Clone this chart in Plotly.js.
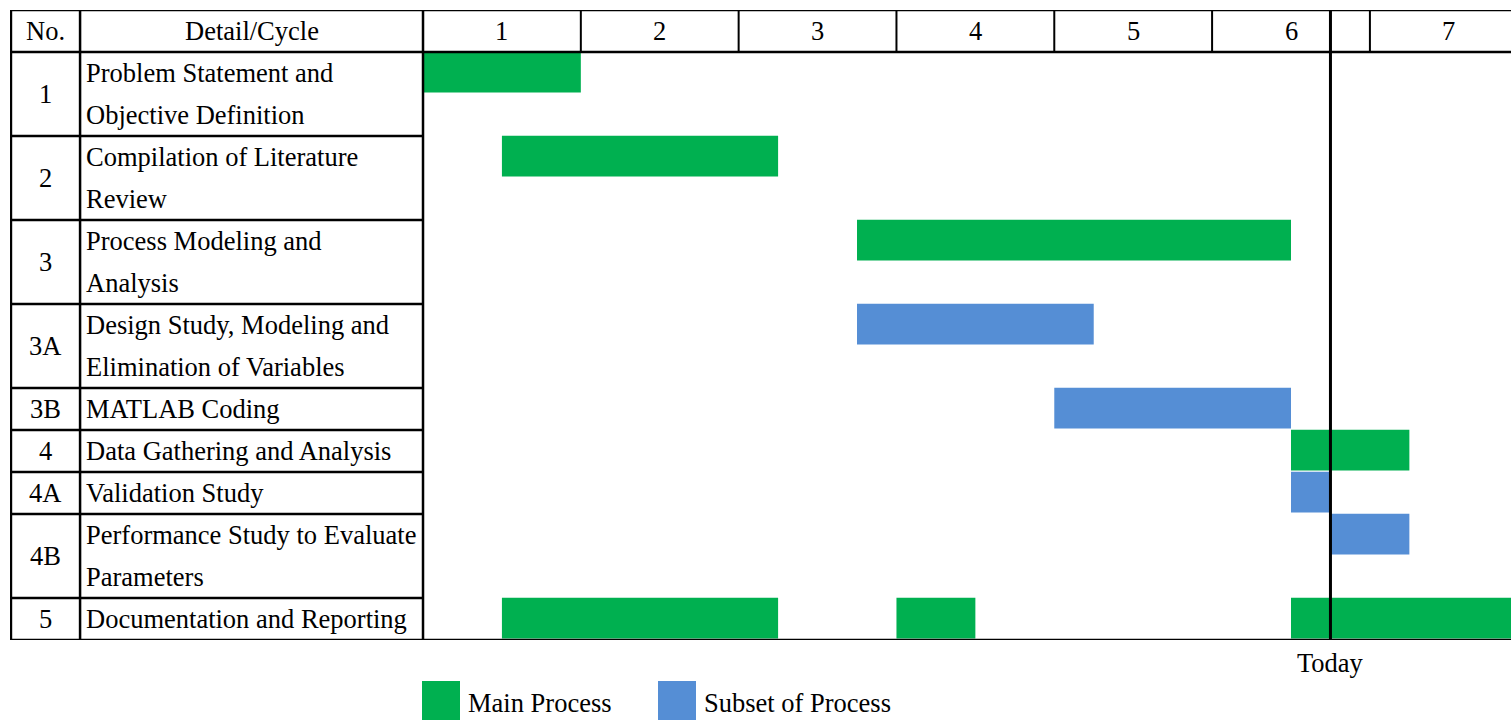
<!DOCTYPE html>
<html>
<head>
<meta charset="utf-8">
<script src="https://cdn.plot.ly/plotly-3.0.1.min.js"></script>
<style>html,body{margin:0;padding:0;background:#fff;}#chart{width:1511px;height:720px;}</style>
</head>
<body>
<div id="chart"></div>
<script>
// ---- data ----
const cycles = ['1', '2', '3', '4', '5', '6', '7'];
const rowIds = ['1', '2', '3', '3A', '3B', '4', '4A', '4B', '5'];
const rowText = [
  ['Problem Statement and', 'Objective Definition'],
  ['Compilation of Literature', 'Review'],
  ['Process Modeling and', 'Analysis'],
  ['Design Study, Modeling and', 'Elimination of Variables'],
  ['MATLAB Coding'],
  ['Data Gathering and Analysis'],
  ['Validation Study'],
  ['Performance Study to Evaluate', 'Parameters'],
  ['Documentation and Reporting']
];
const mainRow   = ['1', '2', '3', '4', '5', '5', '5'];
const mainStart = [0, 0.5, 2.75, 5.5, 0.5, 3.0, 5.5];
const mainEnd   = [1, 2.25, 5.5, 6.25, 2.25, 3.5, 7.0];
const subRow    = ['3A', '3B', '4A', '4B'];
const subStart  = [2.75, 4.0, 5.5, 5.75];
const subEnd    = [4.25, 5.5, 5.75, 6.25];
const todayCycle = 5.75;
const legendNames = ['Main Process', 'Subset of Process'];
const headerNo = 'No.';
const headerDetail = 'Detail/Cycle';
const todayLabel = 'Today';

// ---- layout geometry ----
const GREEN = '#00B050', BLUE = '#558ED5';
const FONT = {family: 'Liberation Serif, Times New Roman, Tinos, DejaVu Serif, serif', size: 26.5, color: '#000'};
const W = 1511, H = 720, ML = 10, MR = 0, MT = 10, MB = 80;
const PW = W - ML - MR, PH = H - MT - MB;
const xLeft = -2.617, xRight = 6.894;        // axis range (cycle units)
const xNoRight = -2.173;                     // boundary between No. and Detail columns
const totalLines = 1 + rowText.reduce((s, r) => s + r.length, 0);

const rowTop = {};
let acc = 1;
rowIds.forEach((id, i) => { rowTop[id] = acc; acc += rowText[i].length; });

const traces = [
  {
    type: 'bar', orientation: 'h', name: legendNames[0],
    y: mainRow.map(r => rowTop[r] + 0.48),
    base: mainStart, x: mainEnd.map((e, i) => e - mainStart[i]),
    width: 0.97, marker: {color: GREEN, line: {width: 0}}, hoverinfo: 'skip'
  },
  {
    type: 'bar', orientation: 'h', name: legendNames[1],
    y: subRow.map(r => rowTop[r] + 0.48),
    base: subStart, x: subEnd.map((e, i) => e - subStart[i]),
    width: 0.97, marker: {color: BLUE, line: {width: 0}}, hoverinfo: 'skip'
  }
];

const shapes = [];
const line = (x0, y0, x1, y1, w) => shapes.push({
  type: 'line', xref: 'x', yref: 'y', x0, y0, x1, y1, layer: 'above',
  line: {color: '#000', width: w || 2}
});
// horizontal borders
line(xLeft, 0, xRight, 0, 2.5);
line(xLeft, 1, xRight, 1, 2.5);
line(xLeft, totalLines, xRight, totalLines, 2.5);
rowIds.forEach((id, i) => {
  if (i > 0) line(xLeft, rowTop[id], 0, rowTop[id], 2.5);
});
// vertical borders
line(xLeft + 0.006, 0, xLeft + 0.006, totalLines, 2.5);
line(xNoRight, 0, xNoRight, totalLines, 2.5);
line(0, 0, 0, totalLines, 2.5);
for (let c = 1; c < cycles.length; c++) line(c, 0, c, 1, 2);
// today line
line(todayCycle, 0, todayCycle, totalLines, 3);

const annotations = [];
const ann = (x, y, text, xanchor, extra) => annotations.push(Object.assign({
  x, y, xref: 'x', yref: 'y', text, showarrow: false, font: FONT,
  xanchor: xanchor || 'center', yanchor: 'middle'
}, extra || {}));

ann((xLeft + xNoRight) / 2, 0.5, headerNo);
ann((xNoRight + 0) / 2, 0.5, headerDetail);
cycles.forEach((c, i) => ann(i + 0.5, 0.5, c));
rowIds.forEach((id, i) => {
  const n = rowText[i].length;
  ann((xLeft + xNoRight) / 2, rowTop[id] + n / 2, id);
  rowText[i].forEach((t, k) => ann(xNoRight + 0.025, rowTop[id] + k + 0.5, t, 'left'));
});

// paper-coordinate helpers for the items below the plot
const px2x = px => (px - ML) / PW;
const py2y = py => (H - MB - py) / PH;
annotations.push({
  xref: 'x', yref: 'paper', x: todayCycle, y: py2y(663),
  text: todayLabel, showarrow: false, font: FONT, xanchor: 'center', yanchor: 'middle'
});

// custom legend
const legendItems = [
  {name: legendNames[0], color: GREEN, x0: 422, textX: 466},
  {name: legendNames[1], color: BLUE, x0: 658, textX: 702}
];
legendItems.forEach(it => {
  shapes.push({
    type: 'rect', xref: 'paper', yref: 'paper',
    x0: px2x(it.x0), x1: px2x(it.x0 + 38), y0: py2y(720), y1: py2y(681),
    fillcolor: it.color, line: {width: 0}
  });
  annotations.push({
    xref: 'paper', yref: 'paper', x: px2x(it.textX), y: py2y(703),
    text: it.name, showarrow: false, font: FONT, xanchor: 'left', yanchor: 'middle'
  });
});

const layout = {
  width: W, height: H,
  margin: {l: ML, r: MR, t: MT, b: MB, pad: 0},
  paper_bgcolor: '#fff', plot_bgcolor: '#fff',
  font: FONT,
  barmode: 'overlay', showlegend: false,
  xaxis: {range: [xLeft, xRight], visible: false, fixedrange: true},
  yaxis: {range: [totalLines, 0], visible: false, fixedrange: true},
  shapes, annotations
};

Plotly.newPlot('chart', traces, layout, {displayModeBar: false, staticPlot: true});
</script>
</body>
</html>
